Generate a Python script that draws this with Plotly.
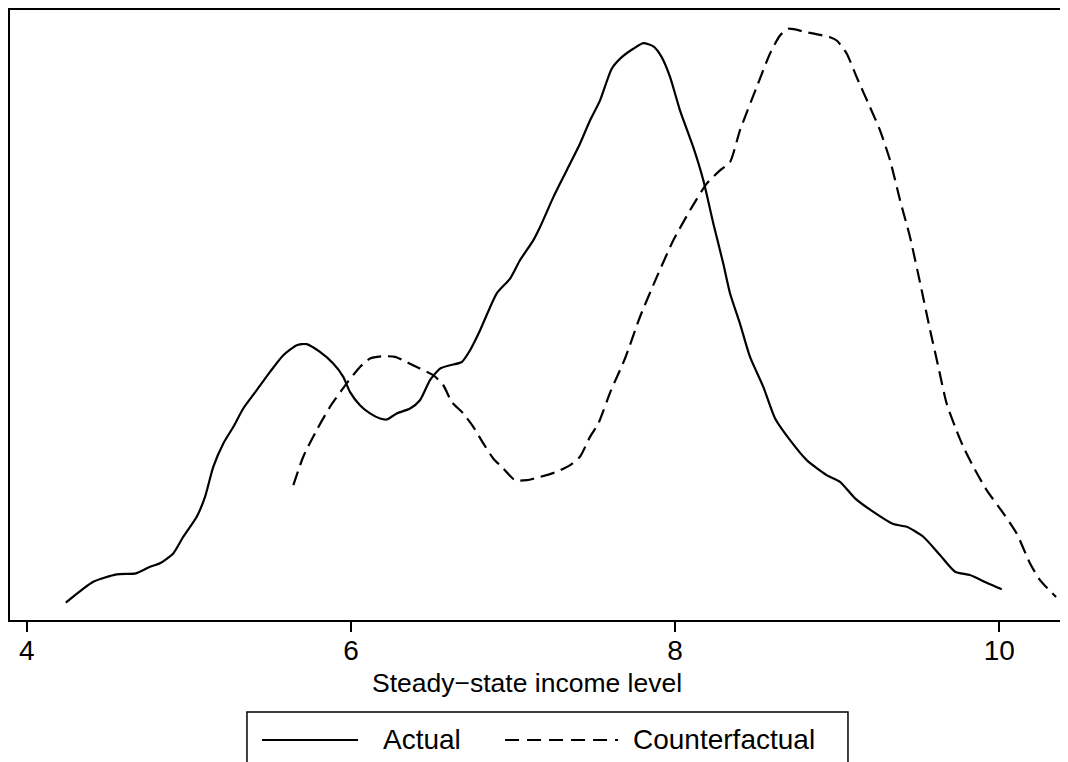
import plotly.graph_objects as go

# Actual distribution (kernel density)
actual_x = [4.241, 4.411, 4.555, 4.674, 4.761, 4.822, 4.904, 4.966, 5.049, 5.100,
            5.151, 5.213, 5.275, 5.336, 5.419, 5.501, 5.583, 5.666, 5.727, 5.809,
            5.891, 5.953, 5.994, 6.056, 6.118, 6.180, 6.221, 6.283, 6.365, 6.426,
            6.488, 6.550, 6.611, 6.684, 6.735, 6.797, 6.899, 6.982, 7.043, 7.125,
            7.167, 7.249, 7.331, 7.413, 7.475, 7.537, 7.609, 7.671, 7.742, 7.804,
            7.866, 7.917, 7.969, 8.030, 8.112, 8.174, 8.236, 8.297, 8.339, 8.400,
            8.462, 8.544, 8.616, 8.709, 8.812, 8.935, 9.017, 9.110, 9.223, 9.346,
            9.429, 9.531, 9.634, 9.727, 9.819, 9.922, 10.015]
actual_y = [0.0105, 0.0232, 0.0277, 0.0283, 0.0323, 0.0344, 0.0404, 0.0505, 0.0626, 0.0747,
            0.0929, 0.1071, 0.1172, 0.1283, 0.1394, 0.1505, 0.1606, 0.1667, 0.1673, 0.1626,
            0.1556, 0.1475, 0.1384, 0.1303, 0.1253, 0.1222, 0.1216, 0.1253, 0.1283, 0.1333,
            0.1455, 0.1525, 0.1545, 0.1565, 0.1636, 0.1758, 0.1980, 0.2071, 0.2182, 0.2303,
            0.2384, 0.2565, 0.2727, 0.2889, 0.3030, 0.3152, 0.3344, 0.3414, 0.3465, 0.3499,
            0.3479, 0.3414, 0.3293, 0.3091, 0.2868, 0.2667, 0.2404, 0.2162, 0.1980, 0.1798,
            0.1596, 0.1414, 0.1224, 0.1091, 0.0970, 0.0879, 0.0838, 0.0738, 0.0656, 0.0582,
            0.0565, 0.0505, 0.0394, 0.0293, 0.0273, 0.0226, 0.0186]

# Counterfactual distribution
counter_x = [5.645, 5.706, 5.789, 5.871, 5.974, 6.056, 6.118, 6.200, 6.272, 6.344,
             6.426, 6.508, 6.570, 6.622, 6.693, 6.755, 6.817, 6.878, 6.940, 7.012,
             7.085, 7.167, 7.270, 7.352, 7.413, 7.475, 7.526, 7.605, 7.691, 7.783,
             7.887, 7.989, 8.092, 8.195, 8.277, 8.339, 8.400, 8.503, 8.585, 8.647,
             8.698, 8.812, 8.956, 8.997, 9.059, 9.120, 9.202, 9.264, 9.326, 9.388,
             9.449, 9.521, 9.573, 9.624, 9.675, 9.727, 9.778, 9.840, 9.922, 10.025,
             10.107, 10.189, 10.251, 10.350]
counter_y = [0.0818, 0.0990, 0.1152, 0.1293, 0.1435, 0.1535, 0.1586, 0.1600, 0.1596, 0.1565,
             0.1525, 0.1485, 0.1424, 0.1323, 0.1253, 0.1172, 0.1071, 0.0980, 0.0919, 0.0848,
             0.0848, 0.0868, 0.0899, 0.0939, 0.0990, 0.1111, 0.1192, 0.1394, 0.1586, 0.1838,
             0.2081, 0.2303, 0.2485, 0.2647, 0.2727, 0.2778, 0.2970, 0.3232, 0.3435, 0.3545,
             0.3586, 0.3565, 0.3535, 0.3515, 0.3435, 0.3293, 0.3111, 0.2970, 0.2788, 0.2545,
             0.2323, 0.2000, 0.1758, 0.1535, 0.1313, 0.1172, 0.1050, 0.0929, 0.0788, 0.0647,
             0.0525, 0.0344, 0.0242, 0.0139]

tick_vals = [4, 6, 8, 10]
tick_text = ["4", "6", "8", "10"]
series_names = ["Actual", "Counterfactual"]
x_title = "Steady\u2212state income level"

FONT = "Liberation Sans, Arial, sans-serif"
FS = 28

fig = go.Figure()
fig.add_trace(go.Scatter(x=actual_x, y=actual_y, mode="lines", name=series_names[0],
                         line=dict(color="black", width=2.2, shape="spline", smoothing=0.6),
                         showlegend=False))
fig.add_trace(go.Scatter(x=counter_x, y=counter_y, mode="lines", name=series_names[1],
                         line=dict(color="black", width=2.2, dash="14px,7px", shape="spline", smoothing=0.6),
                         showlegend=False))

# custom legend (box, line samples, labels) in paper coordinates
shapes = [
    dict(type="rect", xref="paper", yref="paper", x0=0.2223, x1=0.7861, y0=-0.1508, y1=-0.32,
         line=dict(color="black", width=1.5), fillcolor="white", layer="above"),
    dict(type="line", xref="paper", yref="paper", x0=0.2364, x1=0.3265, y0=-0.1967, y1=-0.1967,
         line=dict(color="black", width=2)),
    dict(type="line", xref="paper", yref="paper", x0=0.4644, x1=0.5704, y0=-0.1967, y1=-0.1967,
         line=dict(color="black", width=2, dash="14px,8px")),
]
annotations = [
    dict(xref="paper", yref="paper", x=0.3480, y=-0.1967, text=series_names[0], showarrow=False,
         xanchor="left", yanchor="middle", font=dict(family=FONT, size=FS, color="black")),
    dict(xref="paper", yref="paper", x=0.5830, y=-0.1967, text=series_names[1], showarrow=False,
         xanchor="left", yanchor="middle", font=dict(family=FONT, size=FS, color="black")),
    dict(xref="paper", yref="paper", x=0.485, y=-0.1033, text=x_title, showarrow=False,
         xanchor="center", yanchor="middle", font=dict(family=FONT, size=26.5, color="black")),
]

fig.update_layout(
    width=1068, height=762,
    margin=dict(l=2, r=0, t=2, b=150),
    paper_bgcolor="white", plot_bgcolor="white",
    font=dict(family=FONT, size=FS, color="black"),
    shapes=shapes, annotations=annotations,
    showlegend=False,
    xaxis=dict(range=[3.897, 10.473], tickvals=tick_vals, ticktext=tick_text,
               ticks="outside", ticklen=10, tickwidth=1.5, tickcolor="black",
               ticklabelstandoff=-5,
               showline=True, linecolor="black", linewidth=1.5, mirror=True,
               showgrid=False, zeroline=False),
    yaxis=dict(range=[0, 0.37], showticklabels=False, ticks="",
               showline=True, linecolor="black", linewidth=1.5, mirror=False,
               showgrid=False, zeroline=False),
)

fig.write_html("out.html")
